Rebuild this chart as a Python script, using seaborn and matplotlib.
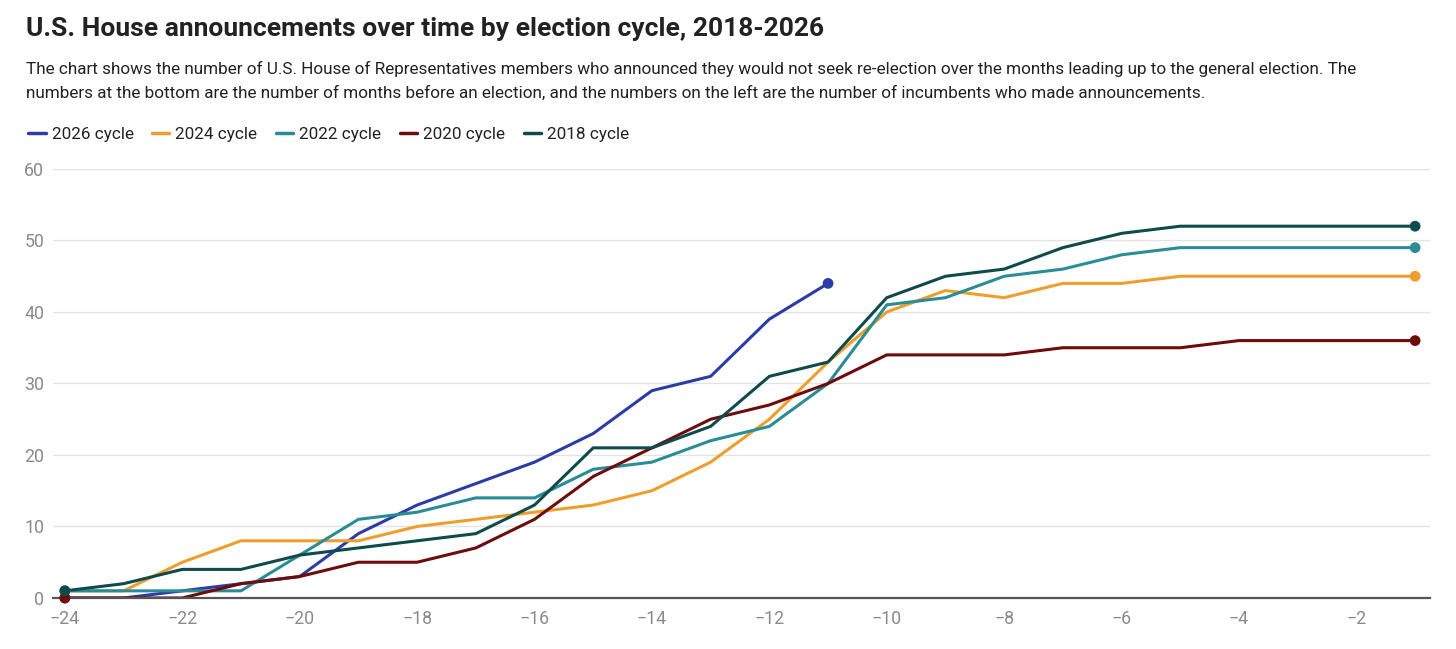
import matplotlib
matplotlib.use("Agg")
import matplotlib.pyplot as plt
import seaborn as sns
import pandas as pd
import numpy as np

# months before election
months = list(range(-24, 0))

# incumbents announcing
c2026 = [0, 0, 1, 2, 3, 9, 13, 16, 19, 23, 29, 31, 39, 44]
c2024 = [1, 1, 5, 8, 8, 8, 10, 11, 12, 13, 15, 19, 25, 33, 40, 43, 42, 44, 44, 45, 45, 45, 45, 45]
c2022 = [1, 1, 1, 1, 6, 11, 12, 14, 14, 18, 19, 22, 24, 30, 41, 42, 45, 46, 48, 49, 49, 49, 49, 49]
c2020 = [0, 0, 0, 2, 3, 5, 5, 7, 11, 17, 21, 25, 27, 30, 34, 34, 34, 35, 35, 35, 36, 36, 36, 36]
c2018 = [1, 2, 4, 4, 6, 7, 8, 9, 13, 21, 21, 24, 31, 33, 42, 45, 46, 49, 51, 52, 52, 52, 52, 52]

cycles = ["2026 cycle", "2024 cycle", "2022 cycle", "2020 cycle", "2018 cycle"]
series = [c2026, c2024, c2022, c2020, c2018]
colors = ["#2B3CA6", "#EE9E2C", "#2A8C96", "#6E0B0B", "#0F4A4D"]

rows = []
for name, vals in zip(cycles, series):
    for m, v in zip(months, vals):
        rows.append({"month": m, "count": v, "cycle": name})
df = pd.DataFrame(rows)

sns.set_style("white")
plt.rcParams["font.family"] = ["Roboto", "DejaVu Sans"]

fig = plt.figure(figsize=(14.56, 6.49), dpi=100)
ax = fig.add_axes([0.0365, 0.0786, 0.9455, 0.661])

sns.lineplot(data=df, x="month", y="count", hue="cycle", hue_order=cycles,
             palette=colors, linewidth=2.2, ax=ax, legend=False)

# dots at start and end of each line
for name, col in zip(cycles, colors):
    d = df[df.cycle == name]
    pts = d.iloc[[0, -1]]
    ax.scatter(pts["month"], pts["count"], s=60, color=col, zorder=5, clip_on=False,
               edgecolor="none")

ax.set_xlim(-24.2, -0.75)
ax.set_ylim(0, 60)
ax.set_yticks([0, 10, 20, 30, 40, 50, 60])
ax.set_xticks(np.arange(-24, 0, 2))
ax.set_xticklabels([f"\u2212{abs(t)}" for t in range(-24, 0, 2)])
ax.grid(axis="y", color="#e3e3e3", linewidth=1)
ax.set_axisbelow(True)
for s in ["top", "right", "left"]:
    ax.spines[s].set_visible(False)
ax.spines["bottom"].set_color("#555555")
ax.spines["bottom"].set_linewidth(1.6)
ax.tick_params(axis="both", length=0, labelsize=12.8, colors="#8a8a8a")
ax.tick_params(axis="y", pad=6.5)
ax.tick_params(axis="x", pad=9)
ax.set_xlabel("")
ax.set_ylabel("")

fig.text(0.0178, 0.955, "U.S. House announcements over time by election cycle, 2018-2026",
         fontsize=19, fontweight="bold", color="#222222", va="center")
fig.text(0.0178, 0.893,
         "The chart shows the number of U.S. House of Representatives members who announced they would not seek re-election over the months leading up to the general election. The",
         fontsize=12.3, color="#222222", va="center")
fig.text(0.0178, 0.857,
         "numbers at the bottom are the number of months before an election, and the numbers on the left are the number of incumbents who made announcements.",
         fontsize=12.3, color="#222222", va="center")

handles = [plt.Line2D([0], [0], color=c, linewidth=2.5) for c in colors]
fig.legend(handles, cycles, loc="center left", bbox_to_anchor=(0.009, 0.793), ncol=5,
           frameon=False, fontsize=12.3, handlelength=1.0, handletextpad=0.35,
           columnspacing=1.1, labelcolor="#222222")

fig.savefig("out.png", dpi=100)
